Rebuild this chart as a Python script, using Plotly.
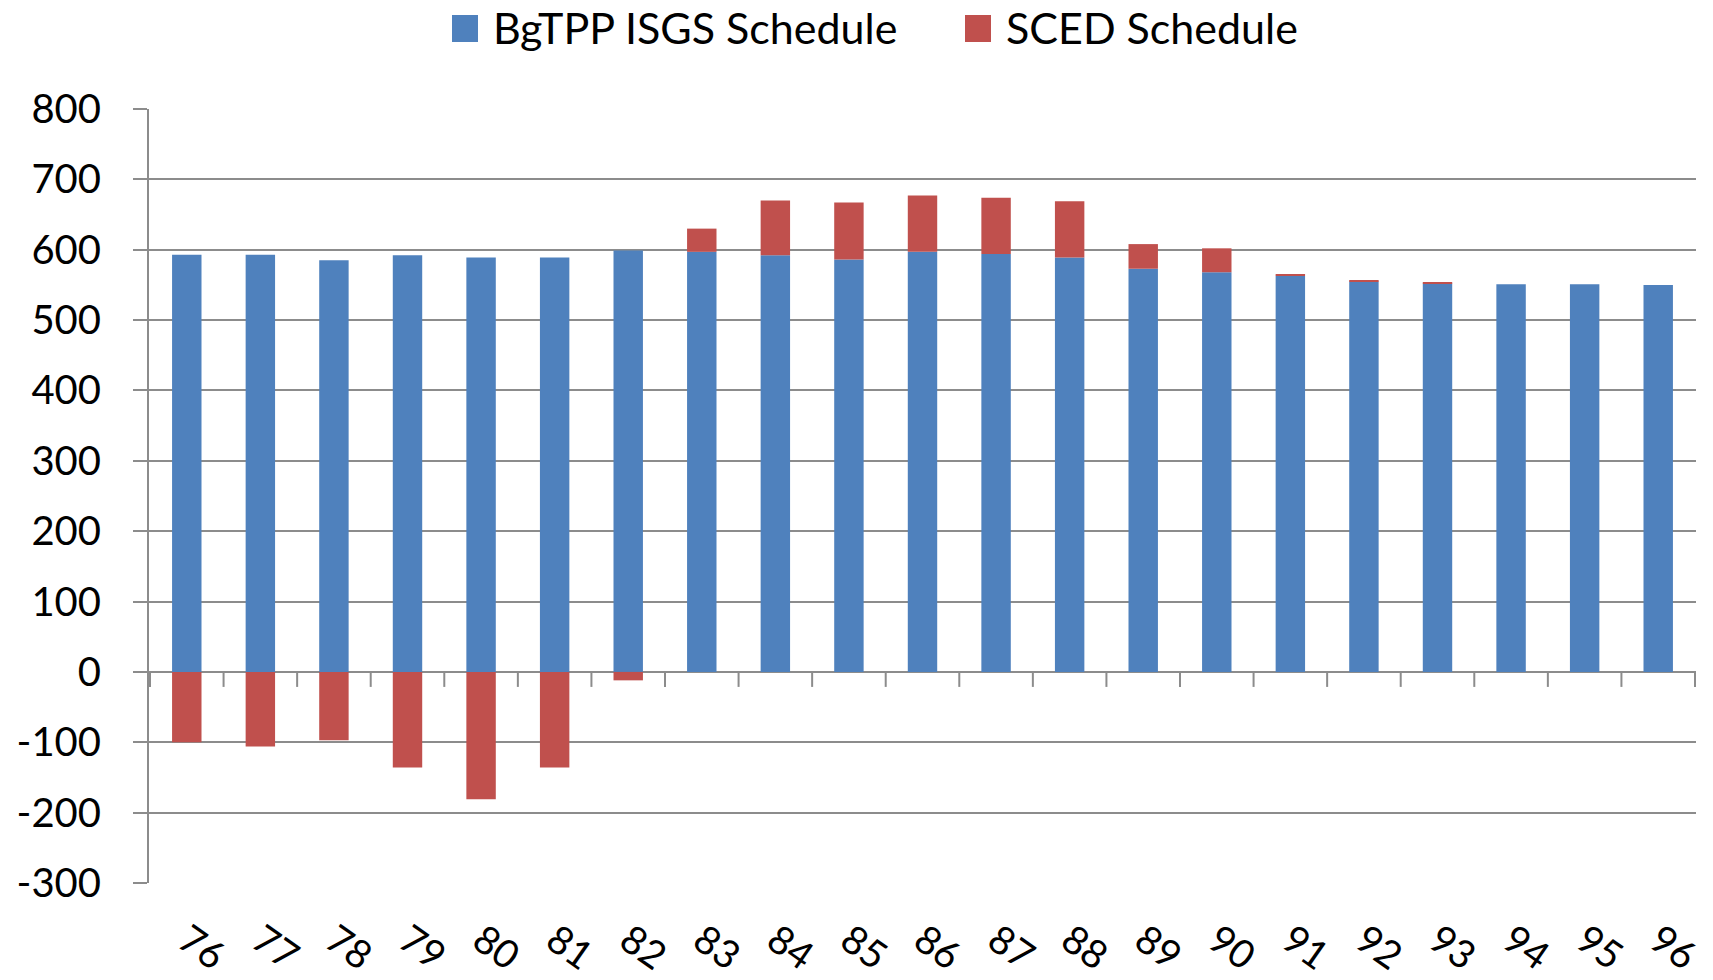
import plotly.graph_objs as go

# time blocks
blocks = ["76", "77", "78", "79", "80", "81", "82", "83", "84", "85", "86",
          "87", "88", "89", "90", "91", "92", "93", "94", "95", "96"]

# BgTPP ISGS schedule (MW)
isgs = [593, 593, 585, 592, 589, 589, 599, 597, 592, 586, 597,
        594, 589, 573, 568, 563, 555, 552, 551, 551, 550]

# SCED schedule (MW), stacked on top / below zero
sced = [-100, -106, -97, -136, -181, -136, -12, 33, 78, 81, 80,
        80, 80, 35, 34, 1.5, 2, 1.5, 0, 0, 0]

y_ticks = [-300, -200, -100, 0, 100, 200, 300, 400, 500, 600, 700, 800]

series_names = ["BgTPP ISGS Schedule", "SCED Schedule"]
series_colors = ["#4F81BD", "#C0504D"]

font_family = "Lato, Noto Sans, sans-serif"

W, H = 1713, 980
M = dict(l=149, r=17, t=109, b=97)


def px_to_paper(px, py):
    # pixel position on the page -> paper coordinates
    pw = W - M["l"] - M["r"]
    ph = H - M["t"] - M["b"]
    return (px - M["l"]) / pw, (H - M["b"] - py) / ph


fig = go.Figure()

fig.add_trace(go.Bar(
    x=blocks, y=isgs, name=series_names[0],
    marker=dict(color=series_colors[0], line=dict(width=0)),
    showlegend=False
))
fig.add_trace(go.Bar(
    x=blocks, y=sced, name=series_names[1],
    marker=dict(color=series_colors[1], line=dict(width=0)),
    showlegend=False
))

# category tick marks hanging off the zero line (Excel style)
for i in range(len(blocks) + 1):
    fig.add_shape(
        type="line", xref="x", yref="y",
        x0=i - 0.5, x1=i - 0.5,
        ysizemode="pixel", yanchor=0, y0=0, y1=-15,
        line=dict(color="#8c8c8c", width=2),
        layer="below"
    )

# legend drawn by hand so the swatches can be as big as in Excel
legend_items = [(452, series_names[0], series_colors[0]),
                (965, series_names[1], series_colors[1])]
for left, name, color in legend_items:
    x0, y0 = px_to_paper(left, 15)
    x1, y1 = px_to_paper(left + 26, 42)
    fig.add_shape(type="rect", xref="paper", yref="paper",
                  x0=x0, x1=x1, y0=y1, y1=y0,
                  fillcolor=color, line=dict(width=0))
    tx, ty = px_to_paper(left + 39, 27)
    fig.add_annotation(text=name, xref="paper", yref="paper",
                       x=tx, y=ty, xanchor="left", yanchor="middle",
                       showarrow=False, font=dict(size=43, color="black"))

fig.update_layout(
    barmode="relative",
    bargap=0.6,
    width=W,
    height=H,
    margin=M,
    plot_bgcolor="white",
    paper_bgcolor="white",
    font=dict(family=font_family, size=40, color="black"),
    showlegend=False,
)

fig.update_xaxes(
    type="category",
    tickangle=35,
    showgrid=False,
    showline=False,
    ticks="",
    ticklabelstandoff=26,
    tickfont=dict(size=39),
    automargin=False,
)

fig.update_yaxes(
    range=[-300, 800],
    tickvals=y_ticks,
    ticktext=[str(v) for v in y_ticks],
    showgrid=True,
    gridcolor="#8c8c8c",
    gridwidth=2,
    zeroline=True,
    zerolinecolor="#8c8c8c",
    zerolinewidth=2,
    showline=True,
    linecolor="#8c8c8c",
    linewidth=2,
    ticks="outside",
    ticklen=14,
    tickcolor="#8c8c8c",
    tickwidth=2,
    ticklabelstandoff=24,
    tickfont=dict(size=40),
    automargin=False,
)

# drop the browser's default page margin so the figure sits at the corner
fig.write_html(
    "out.html",
    config={"displayModeBar": False},
    post_script="document.body.style.margin='0';document.body.style.overflow='hidden';",
)
